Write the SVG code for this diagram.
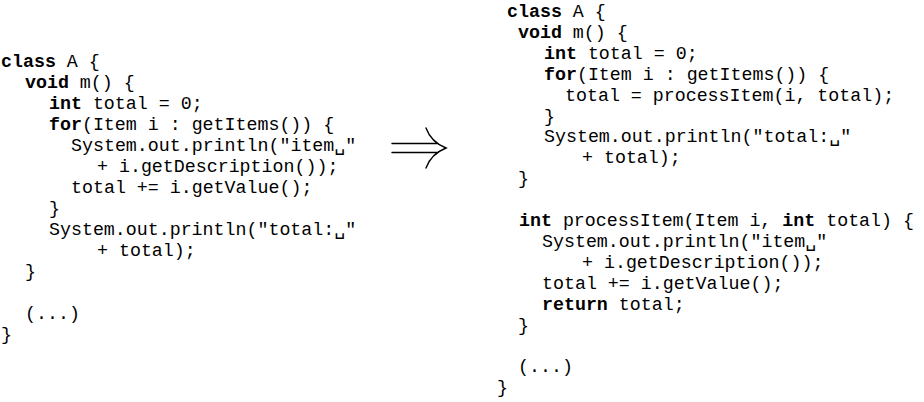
<svg xmlns="http://www.w3.org/2000/svg" width="924" height="402" viewBox="0 0 924 402">
<style>
text{font-family:"Liberation Mono","DejaVu Sans Mono",monospace;font-size:18.3px;fill:#000;white-space:pre}
.k{font-weight:bold}
.arr{fill:none;stroke:#000;stroke-width:1.4;stroke-linecap:round}
</style>
<rect width="924" height="402" fill="#fff"/>
<g id="before">
<text x="1" y="67"><tspan class="k">class</tspan> A {</text>
<text x="25" y="88"><tspan class="k">void</tspan> m() {</text>
<text x="49" y="109"><tspan class="k">int</tspan> total = 0;</text>
<text x="49" y="130"><tspan class="k">for</tspan>(Item i : getItems()) {</text>
<text x="71" y="151">System.out.println("item␣"</text>
<text x="97" y="172">+ i.getDescription());</text>
<text x="71" y="193">total += i.getValue();</text>
<text x="49" y="214">}</text>
<text x="49" y="235">System.out.println("total:␣"</text>
<text x="97" y="256">+ total);</text>
<text x="25" y="277">}</text>
<text x="25" y="319">(...)</text>
<text x="1" y="340">}</text>
</g>
<g id="connectors">
<path class="arr" d="M392 143.5 H437 M392 152.5 H437 M426 128 Q431 142 446 148 Q431 154 426 168"/>
</g>
<g id="after">
<text x="507" y="17"><tspan class="k">class</tspan> A {</text>
<text x="518" y="37.9"><tspan class="k">void</tspan> m() {</text>
<text x="544" y="58.8"><tspan class="k">int</tspan> total = 0;</text>
<text x="544" y="79.7"><tspan class="k">for</tspan>(Item i : getItems()) {</text>
<text x="565" y="100.6">total = processItem(i, total);</text>
<text x="544" y="121.5">}</text>
<text x="544" y="142.4">System.out.println("total:␣"</text>
<text x="582" y="163.3">+ total);</text>
<text x="518" y="184.2">}</text>
<text x="519" y="226"><tspan class="k">int</tspan> processItem(Item i, <tspan class="k">int</tspan> total) {</text>
<text x="542" y="246.9">System.out.println("item␣"</text>
<text x="582" y="267.8">+ i.getDescription());</text>
<text x="542" y="288.7">total += i.getValue();</text>
<text x="542" y="309.6"><tspan class="k">return</tspan> total;</text>
<text x="518" y="330.5">}</text>
<text x="518" y="372.3">(...)</text>
<text x="497" y="393.2">}</text>
</g>
</svg>
